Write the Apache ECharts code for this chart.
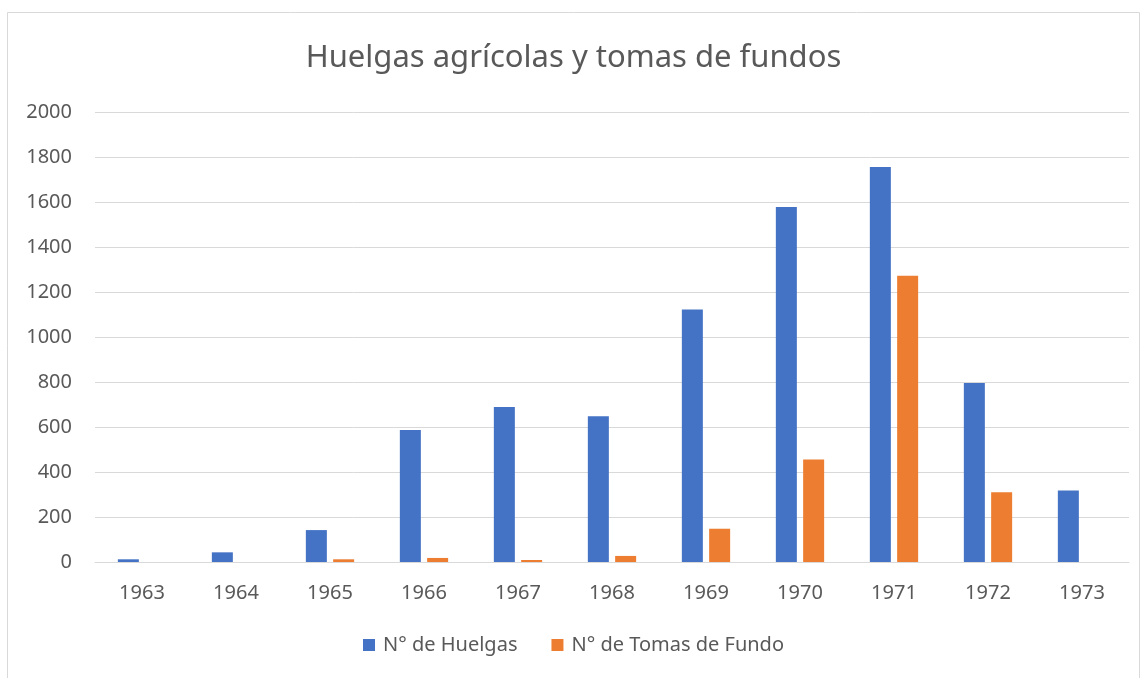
<!DOCTYPE html>
<html>
<head>
<meta charset="utf-8">
<script src="https://cdn.jsdelivr.net/npm/echarts@6/dist/echarts.min.js"></script>
<style>
html,body{margin:0;padding:0;background:#fff;}
#c{width:1147px;height:678px;}
</style>
</head>
<body>
<div id="c"></div>
<script>
const years = ['1963','1964','1965','1966','1967','1968','1969','1970','1971','1972','1973'];
const huelgas = [12, 43, 142, 587, 690, 648, 1123, 1580, 1758, 796, 318];
const tomas = [0, 0, 12, 18, 9, 27, 148, 456, 1274, 310, 0];
const yTicks = [0, 200, 400, 600, 800, 1000, 1200, 1400, 1600, 1800, 2000];

const font = '"Noto Sans", "Open Sans", sans-serif';
const chart = echarts.init(document.getElementById('c'), null, {renderer: 'canvas'});
chart.setOption({
  backgroundColor: '#fff',
  animation: false,
  graphic: [{
    type: 'rect',
    shape: {x: 7.5, y: 12.5, width: 1132, height: 700},
    style: {fill: 'none', stroke: '#d9d9d9', lineWidth: 1},
    silent: true, z: -1
  }],
  title: {
    text: 'Huelgas agrícolas y tomas de fundos',
    left: 'center', top: 38,
    textStyle: {fontFamily: font, fontSize: 31, fontWeight: 'normal', color: '#595959'}
  },
  legend: {
    bottom: 18, left: 'center',
    itemWidth: 12, itemHeight: 12, itemGap: 34,
    icon: 'rect',
    textStyle: {fontFamily: font, fontSize: 20, color: '#595959', padding: [0, 0, 0, 3]},
    data: ['N° de Huelgas', 'N° de Tomas de Fundo']
  },
  grid: {left: 95, right: 18, top: 112.5, bottom: 116, containLabel: false},
  xAxis: {
    type: 'category',
    data: years,
    axisLine: {show: true, lineStyle: {color: '#d9d9d9', width: 1}},
    axisTick: {show: false},
    axisLabel: {fontFamily: font, fontSize: 20, color: '#595959', margin: 21}
  },
  yAxis: {
    type: 'value',
    min: yTicks[0], max: yTicks[yTicks.length - 1], interval: 200,
    axisLine: {show: false},
    axisTick: {show: false},
    splitLine: {lineStyle: {color: '#d9d9d9', width: 1}},
    axisLabel: {fontFamily: font, fontSize: 20, color: '#595959', margin: 23,
      formatter: function (v) { return String(v); }}
  },
  series: [
    {
      name: 'N° de Huelgas', type: 'bar', data: huelgas,
      barWidth: 21, barGap: '30%',
      itemStyle: {color: '#4472C4'}
    },
    {
      name: 'N° de Tomas de Fundo', type: 'bar', data: tomas,
      barWidth: 21,
      itemStyle: {color: '#ED7D31'}
    }
  ]
});
</script>
</body>
</html>
